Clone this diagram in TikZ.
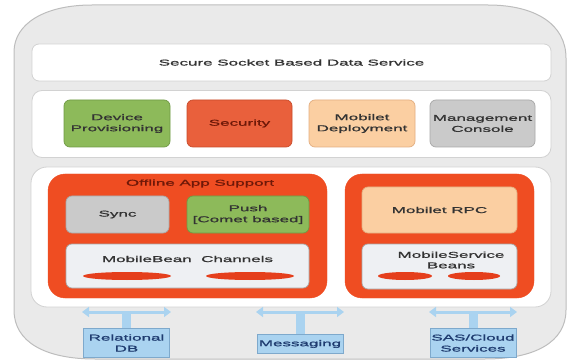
\documentclass[tikz,border=0pt]{standalone}
\usepackage{fontspec}
\setmainfont{Liberation Sans}
\newfontfamily\wf[FakeStretch=2.0,FakeBold=1.2]{Liberation Sans}
\usetikzlibrary{arrows.meta,shapes.geometric}
\definecolor{outerfill}{HTML}{EAEAEA}
\definecolor{outerline}{HTML}{BDBDBD}
\definecolor{bandline}{HTML}{D2D2D2}
\definecolor{grn}{HTML}{8DBA5A}
\definecolor{grnline}{HTML}{6F9A44}
\definecolor{sec}{HTML}{E9603C}
\definecolor{secline}{HTML}{C84A2A}
\definecolor{peach}{HTML}{FBCFA2}
\definecolor{peachline}{HTML}{E3AE80}
\definecolor{gry}{HTML}{CACACA}
\definecolor{gryline}{HTML}{A8A8A8}
\definecolor{org}{HTML}{EF4D22}
\definecolor{pale}{HTML}{EEF0F3}
\definecolor{ell}{HTML}{E53F1C}
\definecolor{blu}{HTML}{AAD3F0}
\definecolor{bluline}{HTML}{7EA9CC}
\definecolor{txt}{HTML}{333333}
\definecolor{dred}{HTML}{6E1808}
\definecolor{navy}{HTML}{1F3C70}
\tikzset{
  lbl/.style={font=\wf\fontsize{8.5}{11}\selectfont, text=txt, align=center, inner sep=0pt},
  band/.style={draw=bandline, fill=white, line width=0.8pt, inner sep=0pt},
  tile/.style={lbl, rounded corners=6pt, line width=0.7pt},
  cont/.style={fill=org, draw=org, rounded corners=17pt, inner sep=0pt},
  bluebox/.style={lbl, fill=blu, draw=bluline, line width=0.7pt, text=navy},
  barrow/.style={draw=blu, line width=3pt, {Triangle[width=10pt,length=7pt]}-{Triangle[width=10pt,length=7pt]}},
  bstem/.style={draw=blu, line width=9pt},
  bean/.style={ellipse, fill=ell, inner sep=0pt}
}
\begin{document}
\begin{tikzpicture}[x=1pt,y=-1pt]
\useasboundingbox (0,0) rectangle (574,361);
% outer shell
\draw[fill=outerfill, draw=outerline, line width=1pt]
  (14,52) -- (14,310) .. controls (14,342) and (45,359) .. (95,359) -- (485,359)
  .. controls (535,359) and (566,342) .. (566,310) -- (566,58)
  .. controls (566,24) and (535,5) .. (488,5) -- (92,5)
  .. controls (44,5) and (14,24) .. (14,52) -- cycle;
% secure socket band
\node[band, rounded corners=7pt, minimum width=519pt, minimum height=37pt, lbl] (secure) at (291.5,62.5) {Secure Socket Based Data Service};
% band 2
\node[band, rounded corners=10pt, minimum width=519pt, minimum height=67pt] (band2) at (291.5,124) {};
\node[tile, fill=grn, draw=grnline, minimum width=106pt, minimum height=47pt] (dev) at (117,123.5) {Device\\Provisioning};
\node[tile, fill=sec, draw=secline, text=dred, minimum width=105pt, minimum height=47pt] (secu) at (239.5,123.5) {Security};
\node[tile, fill=peach, draw=peachline, minimum width=106pt, minimum height=47pt] (mdep) at (362,123.5) {Mobilet\\Deployment};
\node[tile, fill=gry, draw=gryline, minimum width=105pt, minimum height=47pt] (mcon) at (482.5,123.5) {Management\\Console};
% band 3
\node[band, rounded corners=16pt, minimum width=520pt, minimum height=140pt] (band3) at (291,237) {};
\node[cont, minimum width=279pt, minimum height=124pt] (offl) at (187.5,236) {};
\node[cont, minimum width=189pt, minimum height=124pt] (rpcc) at (439.5,236) {};
\node[lbl, text=dred] (offt) at (200,183.5) {Offline App Support};
\node[tile, fill=gry, draw=gryline, minimum width=103pt, minimum height=37pt] (sync) at (117.5,214.5) {Sync};
\node[tile, fill=grn, draw=grnline, minimum width=122pt, minimum height=37pt] (push) at (248,214.5) {Push\\{[}Comet based{]}};
\node[tile, fill=pale, draw=gryline, minimum width=243pt, minimum height=44pt] (mbc) at (187.5,266) {};
\node[lbl] (mbct) at (187.5,259) {MobileBean\ \ Channels};
\node[bean, minimum width=88pt, minimum height=8pt] (b1) at (127,276) {};
\node[bean, minimum width=88pt, minimum height=8pt] (b2) at (250,276) {};
\node[tile, fill=peach, draw=peachline, minimum width=155pt, minimum height=46pt] (mrpc) at (439.5,210) {Mobilet RPC};
\node[tile, fill=pale, draw=gryline, minimum width=155pt, minimum height=45pt] (msb) at (439.5,266.5) {};
\node[lbl, font=\wf\fontsize{8.5}{10.5}\selectfont] (msbt) at (451,260) {MobileService\\Beans};
\node[bean, minimum width=54pt, minimum height=8pt] (b3) at (405,276) {};
\node[bean, minimum width=52pt, minimum height=8pt] (b4) at (474,276) {};
% external systems
\node[bluebox, minimum width=86pt, minimum height=29pt] (rdb) at (126.5,343) {Relational\\DB};
\node[bluebox, minimum width=86pt, minimum height=19pt] (msg) at (300,344) {Messaging};
\node[bluebox, minimum width=86pt, minimum height=29pt] (sas) at (473,343) {SAS/Cloud\\Services};
\coordinate (r0) at (126.5,312); \coordinate (rl) at (82,312); \coordinate (rr) at (171,312);
\coordinate (m0) at (300,312); \coordinate (ml) at (256,312); \coordinate (mr) at (344,312);
\coordinate (s0) at (473,312); \coordinate (sl) at (429,312); \coordinate (sr) at (517,312);
\draw[bstem] (r0) -- (rdb.north);
\draw[bstem] (m0) -- (msg.north);
\draw[bstem] (s0) -- (sas.north);
\draw[barrow] (rl) -- (rr);
\draw[barrow] (ml) -- (mr);
\draw[barrow] (sl) -- (sr);
\end{tikzpicture}
\end{document}
